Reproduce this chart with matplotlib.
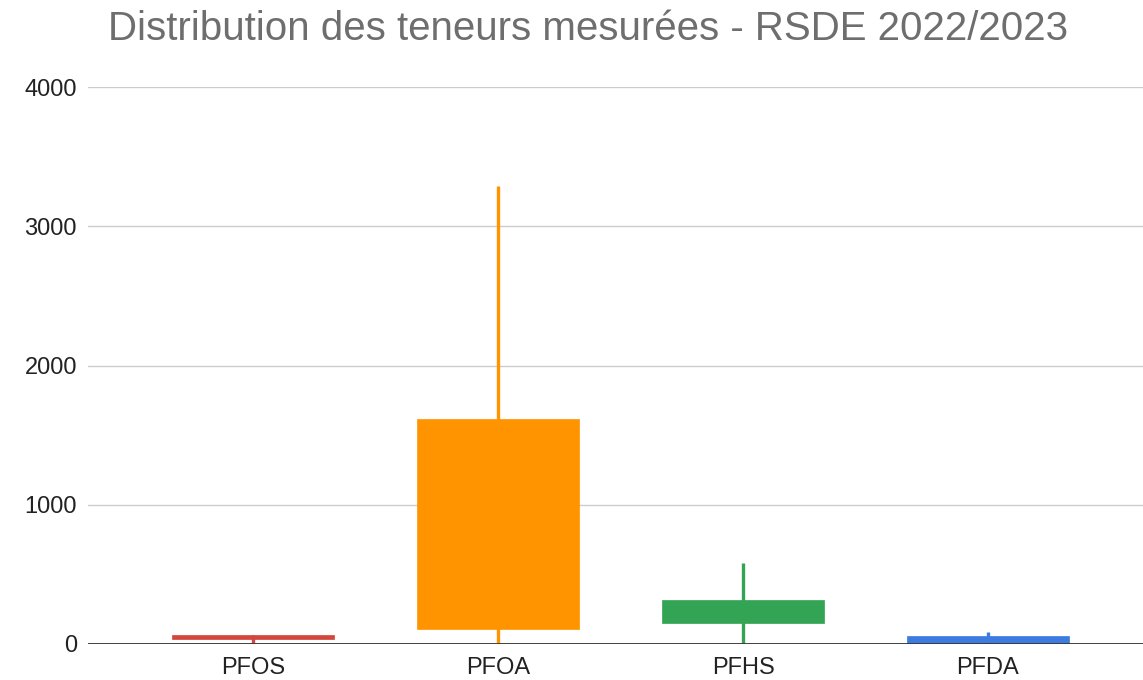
import matplotlib
matplotlib.use("Agg")
import matplotlib.pyplot as plt

categories = ["PFOS", "PFOA", "PFHS", "PFDA"]
low = [5, 5, 5, 8]
box_low = [36, 108, 151, 8]
box_high = [64, 1616, 316, 57]
high = [64, 3290, 582, 86]
colors = ["#d2463c", "#ff9400", "#33a354", "#3d7be0"]
y_ticks = [0, 1000, 2000, 3000, 4000]

plt.rcParams['font.family'] = ['Liberation Sans', 'DejaVu Sans']

fig = plt.figure(figsize=(11.43, 6.80), dpi=100)
ax = fig.add_axes([88/1143, 36/680, 1 - 88/1143, (644-87)/680])

x = list(range(len(categories)))
ax.vlines(x, low, high, colors=colors, linewidth=2.4, zorder=3)
ax.bar(x, [h - l for h, l in zip(box_high, box_low)], bottom=box_low, width=0.665,
       color=colors, edgecolor=colors, linewidth=0.5, zorder=4)

ax.set_ylim(0, 4000)
ax.set_xlim((88-253)/245, (1143-253)/245)
ax.set_yticks(y_ticks)
ax.set_yticklabels([str(t) for t in y_ticks])
ax.set_xticks(x)
ax.set_xticklabels(categories)
ax.tick_params(axis='both', length=0, labelsize=17, colors="#222222")
ax.tick_params(axis='y', pad=8)
ax.tick_params(axis='x', pad=9)
for t in y_ticks[1:]:
    ax.axhline(t, color="#cccccc", linewidth=1, zorder=1)
ax.axhline(0, color="#333333", linewidth=1.3, zorder=5)
for s in ax.spines.values():
    s.set_visible(False)

fig.text(588/1143, 1 - 29/680, "Distribution des teneurs mesurées - RSDE 2022/2023",
         ha="center", va="center", fontsize=29, color="#6e6e6e")

fig.savefig("out.png", dpi=100)
